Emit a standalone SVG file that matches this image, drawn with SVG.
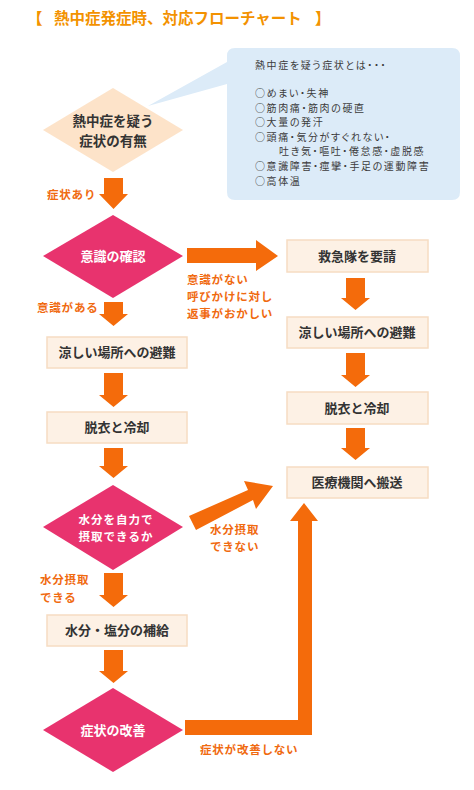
<svg xmlns="http://www.w3.org/2000/svg" width="474" height="790" viewBox="0 0 474 790">
<style>
text{font-family:"Noto Sans CJK JP","Noto Sans",sans-serif;font-weight:bold}
.title{fill:#f39200;font-size:15.5px}
.bub{fill:#3c3c3c;font-size:10px;font-weight:normal;letter-spacing:1.6px;font-feature-settings:"palt"}
.box{fill:#fdf1e5;stroke:#f6dcc2;stroke-width:1.5}
.bt{fill:#333;font-size:13px;text-anchor:middle}
.dpeach{fill:#fde3c9}
.dpink{fill:#e8336e}
.dt{fill:#fff;font-size:13px;text-anchor:middle}
.dt2{fill:#fff;font-size:11.5px;letter-spacing:1px;text-anchor:middle}
.dtd{fill:#333;font-size:13.5px;text-anchor:middle}
.arr{fill:#f46b0b}
.lbl{fill:#f06a10;font-size:11.5px;letter-spacing:0.8px}
</style>
<rect width="474" height="790" fill="#fff"/>
<g id="title">
<text class="title" x="27" y="24">【</text>
<text class="title" x="54" y="24">熱中症発症時、対応フローチャート</text>
<text class="title" x="315" y="24">】</text>
</g>
<g id="bubble">
<path d="M235,48 H452 Q460,48 460,56 V192 Q460,200 452,200 H235 Q227,200 227,192 V84 L148,106 L227,62 V56 Q227,48 235,48 Z" fill="#dcebf8"/>
<text class="bub" x="255" y="69">熱中症を疑う症状とは・・・</text>
<text class="bub" x="255" y="97">○めまい・失神</text>
<text class="bub" x="255" y="111.5">○筋肉痛・筋肉の硬直</text>
<text class="bub" x="255" y="126">○大量の発汗</text>
<text class="bub" x="255" y="140.5">○頭痛・気分がすぐれない・</text>
<text class="bub" x="279" y="155">吐き気・嘔吐・倦怠感・虚脱感</text>
<text class="bub" x="255" y="169.5">○意識障害・痙攣・手足の運動障害</text>
<text class="bub" x="255" y="185">○高体温</text>
</g>
<g id="d1">
<polygon class="dpeach" points="113,88 183,130 113,172 43,130"/>
<text class="dtd" x="113" y="126">熱中症を疑う</text>
<text class="dtd" x="113" y="146">症状の有無</text>
</g>
<g id="d2">
<polygon class="dpink" points="113,215 183,256 113,298 43,256"/>
<text class="dt" x="113" y="261">意識の確認</text>
</g>
<g id="b1">
<rect class="box" x="47" y="337" width="140" height="31"/>
<text class="bt" x="117" y="357">涼しい場所への避難</text>
</g>
<g id="b2">
<rect class="box" x="47" y="412" width="140" height="31"/>
<text class="bt" x="117" y="432">脱衣と冷却</text>
</g>
<g id="d3">
<polygon class="dpink" points="113,485 183,527 113,570 43,527"/>
<text class="dt2" x="116" y="524">水分を自力で</text>
<text class="dt2" x="116" y="541">摂取できるか</text>
</g>
<g id="b3">
<rect class="box" x="47" y="615" width="140" height="31"/>
<text class="bt" x="117" y="635">水分・塩分の補給</text>
</g>
<g id="d4">
<polygon class="dpink" points="113,688 183,730 113,772 43,730"/>
<text class="dt" x="113" y="735">症状の改善</text>
</g>
<g id="r1">
<rect class="box" x="287" y="240" width="141" height="32"/>
<text class="bt" x="357" y="261">救急隊を要請</text>
</g>
<g id="r2">
<rect class="box" x="287" y="317" width="141" height="31"/>
<text class="bt" x="357" y="337">涼しい場所への避難</text>
</g>
<g id="r3">
<rect class="box" x="287" y="392" width="141" height="32"/>
<text class="bt" x="357" y="413">脱衣と冷却</text>
</g>
<g id="r4">
<rect class="box" x="287" y="467" width="141" height="31"/>
<text class="bt" x="357" y="487">医療機関へ搬送</text>
</g>
<g id="connectors">
<path class="arr" d="M104,178 H123 V194 H128 L113.5,209 L99,194 H104 Z"/>
<path class="arr" d="M104,302 H123 V314 H128 L113.5,326 L99,314 H104 Z"/>
<path class="arr" d="M104,373 H123 V395 H128 L113.5,407 L99,395 H104 Z"/>
<path class="arr" d="M104,448 H123 V466 H128 L113.5,478 L99,466 H104 Z"/>
<path class="arr" d="M104,573 H123 V595 H128 L113.5,607 L99,595 H104 Z"/>
<path class="arr" d="M104,650 H123 V671 H128 L113.5,683 L99,671 H104 Z"/>
<path class="arr" d="M346,278 H365 V298 H370 L355.5,310 L341,298 H346 Z"/>
<path class="arr" d="M346,353 H365 V375 H370 L355.5,387 L341,375 H346 Z"/>
<path class="arr" d="M346,428 H365 V448 H370 L355.5,460 L341,448 H346 Z"/>
<path class="arr" d="M187,248 H256 V240 L278,256 L256,271 V263 H187 Z"/>
<path class="arr" d="M189,516 L248,490 L244,481 L273,486 L256,509 L253,500 L196,530 Z"/>
<path class="arr" d="M185,720 H298 V521 H290 L304,503 L318,521 H312 V735 H185 Z"/>
<text class="lbl" x="47" y="199">症状あり</text>
<text class="lbl" x="37" y="312">意識がある</text>
<text class="lbl" x="187" y="284">意識がない</text>
<text class="lbl" x="187" y="301">呼びかけに対し</text>
<text class="lbl" x="187" y="318">返事がおかしい</text>
<text class="lbl" x="210" y="534">水分摂取</text>
<text class="lbl" x="210" y="551">できない</text>
<text class="lbl" x="40" y="584">水分摂取</text>
<text class="lbl" x="40" y="602">できる</text>
<text class="lbl" x="200" y="754">症状が改善しない</text>
</g>
</svg>
